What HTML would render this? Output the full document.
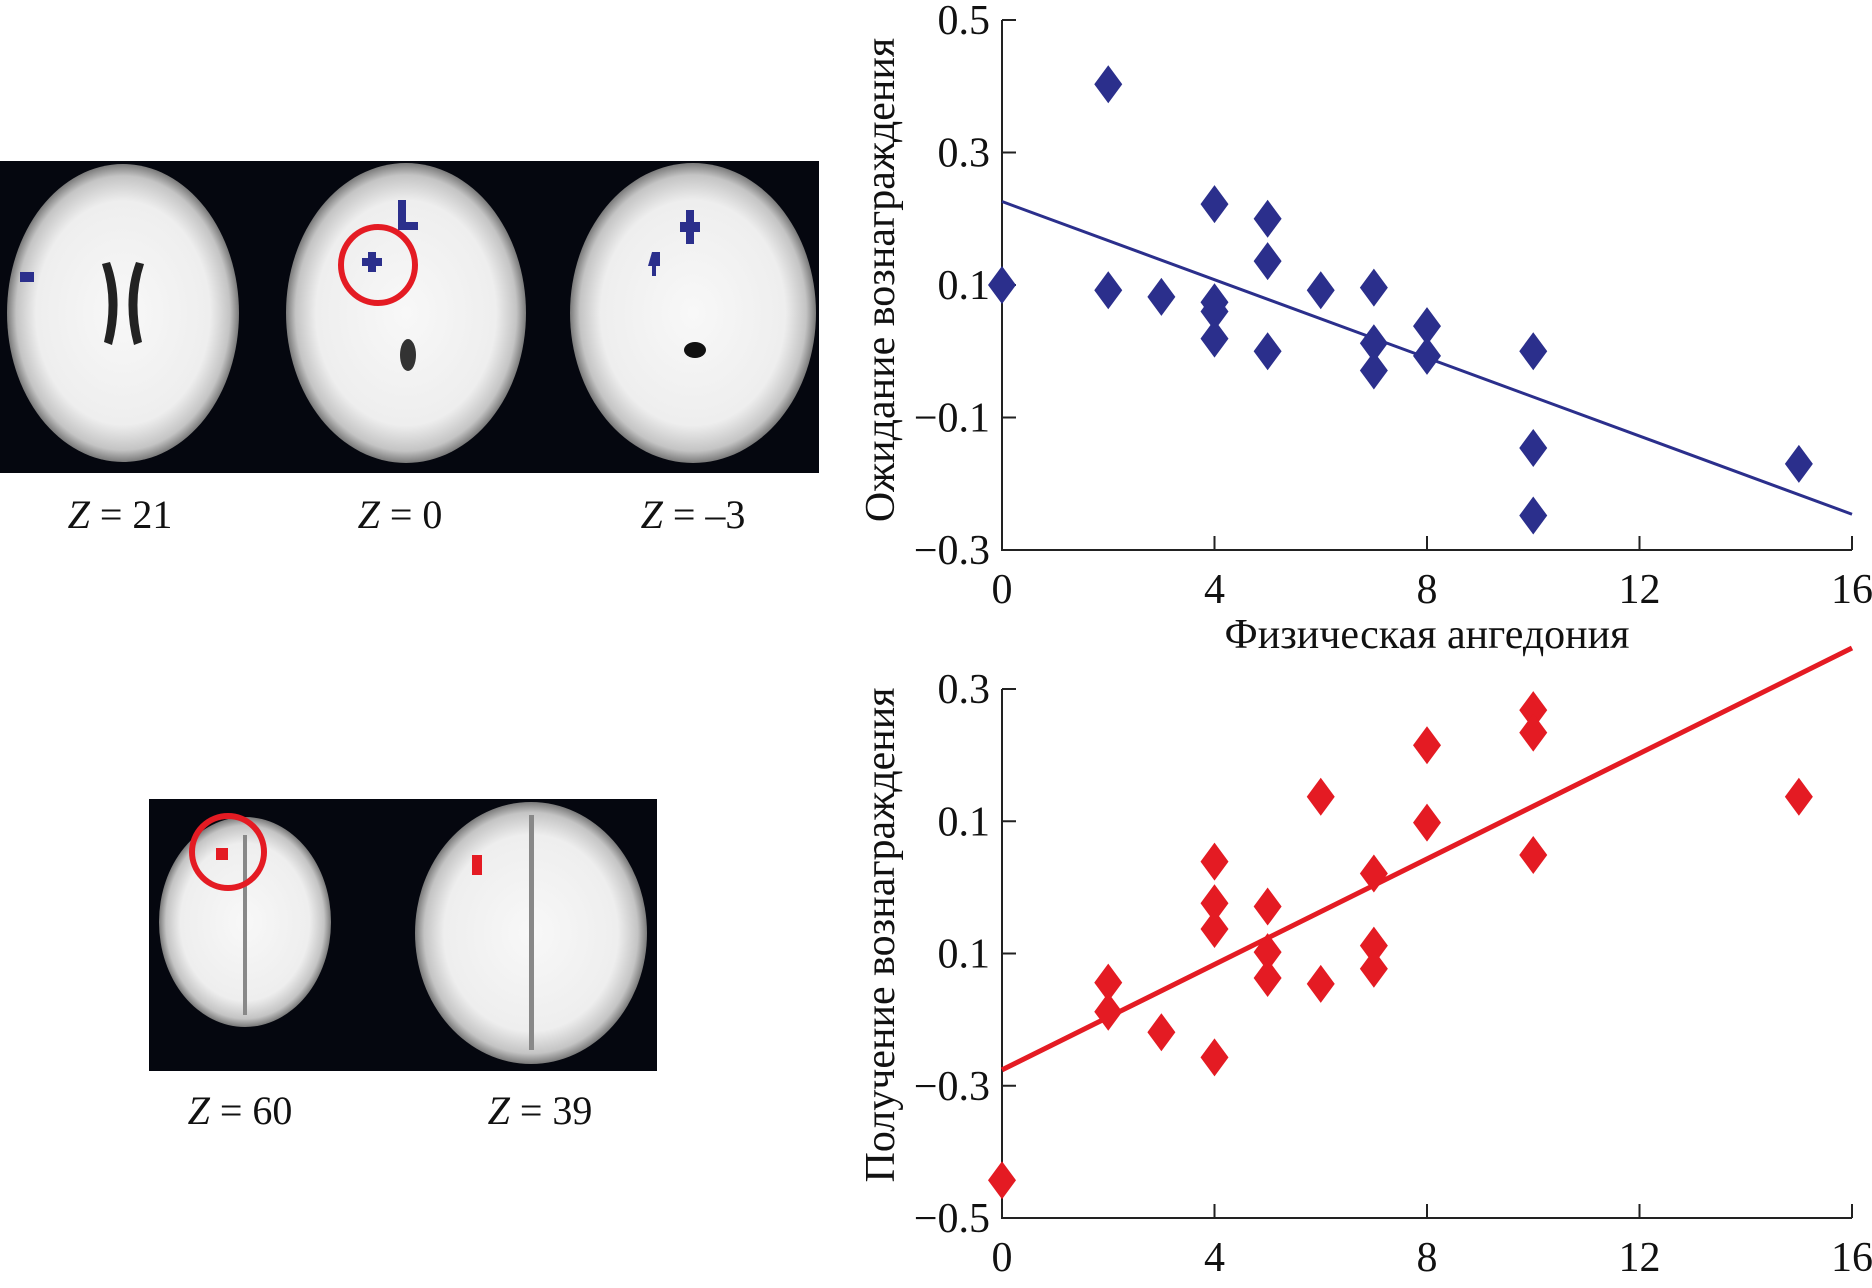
<!DOCTYPE html>
<html><head><meta charset="utf-8"><style>
html,body{margin:0;padding:0;background:#fff;}
svg{display:block;}
text{font-family:"Liberation Serif",serif;fill:#111;}
</style></head><body>
<svg id="fig" width="1872" height="1288" viewBox="0 0 1872 1288">
<defs>
<radialGradient id="brain" cx="50%" cy="50%" r="50%">
<stop offset="0" stop-color="#f8f8f8"/><stop offset="0.75" stop-color="#eeeeee"/><stop offset="0.92" stop-color="#c4c4c4"/><stop offset="1" stop-color="#7a7a7a"/>
</radialGradient>
</defs>
<g>
<rect x="0" y="161" width="819" height="312" fill="#05070f"/>
<ellipse cx="123" cy="313" rx="116" ry="149" fill="url(#brain)"/>
<path d="M110 262 Q124 300 112 345 L104 342 Q114 300 102 264Z M136 262 Q122 300 134 345 L142 342 Q132 300 144 264Z" fill="#222"/>
<ellipse cx="406" cy="313" rx="120" ry="150" fill="url(#brain)"/>
<ellipse cx="408" cy="355" rx="8" ry="16" fill="#333"/>
<ellipse cx="693" cy="313" rx="123" ry="150" fill="url(#brain)"/>
<ellipse cx="695" cy="350" rx="11" ry="8" fill="#111"/>
<rect x="20" y="272" width="14" height="10" fill="#2b2f8c"/>
<path d="M398 200h8v22h12v8h-20z" fill="#2b2f8c"/>
<path d="M368 252h8v6h6v8h-6v6h-8v-6h-6v-8h6z" fill="#2b2f8c"/>
<path d="M686 210h8v12h6v10h-6v12h-8v-12h-6v-10h6z" fill="#2b2f8c"/>
<path d="M652 252h8v14h-4v10h-4v-10h-4z" fill="#2b2f8c"/>
<ellipse cx="378" cy="265" rx="37" ry="38" fill="none" stroke="#e41b23" stroke-width="6"/>
</g>
<text x="120" y="528" font-size="40" text-anchor="middle"><tspan font-style="italic">Z</tspan> = 21</text>
<text x="400" y="528" font-size="40" text-anchor="middle"><tspan font-style="italic">Z</tspan> = 0</text>
<text x="693" y="528" font-size="40" text-anchor="middle"><tspan font-style="italic">Z</tspan> = –3</text>
<g>
<rect x="149" y="799" width="508" height="272" fill="#05070f"/>
<ellipse cx="245" cy="922" rx="86" ry="105" fill="url(#brain)"/>
<ellipse cx="531" cy="933" rx="116" ry="131" fill="url(#brain)"/>
<rect x="529" y="815" width="5" height="235" fill="#888"/>
<rect x="243" y="835" width="4" height="180" fill="#888"/>
<rect x="216" y="848" width="12" height="12" fill="#e41b23"/>
<rect x="472" y="855" width="10" height="20" fill="#e41b23"/>
<circle cx="228" cy="852" r="36" fill="none" stroke="#e41b23" stroke-width="6"/>
</g>
<text x="240" y="1124" font-size="40" text-anchor="middle"><tspan font-style="italic">Z</tspan> = 60</text>
<text x="540" y="1124" font-size="40" text-anchor="middle"><tspan font-style="italic">Z</tspan> = 39</text>
<g id="top"></g>
<g id="bot"></g>
</svg>
<script>
const topX=[0,2,2,3,4,4,4,4,5,5,5,6,7,7,7,8,8,10,10,10,15];
const topY=[0.1,0.403,0.092,0.082,0.222,0.074,0.06,0.019,0.2,0.136,0.0,0.092,0.096,0.012,-0.029,0.038,-0.007,0.0,-0.146,-0.248,-0.17];
const topLine=[0.226,-0.246];
const topTickVals=[0.5,0.3,0.1,-0.1,-0.3];
const topTickLabels=["0.5","0.3","0.1","\u22120.1","\u22120.3"];
const botX=[0,2,2,3,4,4,4,4,5,5,5,6,6,7,7,7,8,8,10,10,10,15];
const botY=[-0.443,-0.144,-0.188,-0.219,0.039,-0.024,-0.063,-0.257,-0.029,-0.098,-0.137,0.137,-0.146,0.021,-0.088,-0.123,0.215,0.098,0.268,0.234,0.049,0.137];
const botLine=[-0.276,0.362];
const botTickVals=[0.3,0.1,-0.1,-0.3,-0.5];
const botTickLabels=["0.3","0.1","0.1","\u22120.3","\u22120.5"];
const xTickVals=[0,4,8,12,16];
const xTickLabels=["0","4","8","12","16"];
const NS="http://www.w3.org/2000/svg";
function mk(p,t,a){const e=document.createElementNS(NS,t);for(const k in a)e.setAttribute(k,a[k]);p.appendChild(e);return e;}
function chart(g,xs,ys,line,tv,tl,ymax,ymin,yTop,yBot,color,title,titleY,prefix){
  const x0=1002,x1=1852;
  const sx=v=>x0+(v-0)/(16-0)*(x1-x0);
  const sy=v=>yTop+(ymax-v)/(ymax-ymin)*(yBot-yTop);
  const ax=mk(g,'path',{d:`M${x0} ${yTop}V${yBot}H${x1}`,fill:'none',stroke:'#222','stroke-width':2});
  
  
  tv.forEach((v,i)=>{
    mk(g,'line',{x1:x0,x2:x0+14,y1:sy(v),y2:sy(v),stroke:'#222','stroke-width':2});
    const t=mk(g,'text',{x:x0-12,y:sy(v)+14,'font-size':42,'text-anchor':'end'});
    t.textContent=tl[i];
    
    
  });
  xTickVals.forEach((v,i)=>{
    mk(g,'line',{x1:sx(v),x2:sx(v),y1:yBot,y2:yBot-14,stroke:'#222','stroke-width':2});
    const t=mk(g,'text',{x:sx(v),y:yBot+53,'font-size':42,'text-anchor':'middle'});
    t.textContent=xTickLabels[i];
    
    
  });
  const ln=mk(g,'line',{x1:sx(0),y1:sy(line[0]),x2:sx(16),y2:sy(line[1]),stroke:color,'stroke-width':color==='#2b2f8c'?3:5});
  
  
  xs.forEach((v,i)=>{
    const cx=sx(v),cy=sy(ys[i]);
    const d=mk(g,'path',{d:`M${cx} ${cy-19}L${cx+14} ${cy}L${cx} ${cy+19}L${cx-14} ${cy}Z`,fill:color});
    
    
  });
  const t=mk(g,'text',{x:0,y:0,'font-size':42,'text-anchor':'middle',transform:`translate(894 ${titleY}) rotate(-90)`});
  t.textContent=title;
  
  
}
chart(document.getElementById('top'),topX,topY,topLine,topTickVals,topTickLabels,0.5,-0.3,20,550,'#2b2f8c','Ожидание вознаграждения',280,'top');
chart(document.getElementById('bot'),botX,botY,botLine,botTickVals,botTickLabels,0.3,-0.5,689,1218,'#e41b23','Получение  вознаграждения',935,'bottom');
const xt=mk(document.getElementById('top'),'text',{x:1427,y:648,'font-size':42,'text-anchor':'middle'});
xt.textContent='Физическая ангедония';


</script>
</body></html>
